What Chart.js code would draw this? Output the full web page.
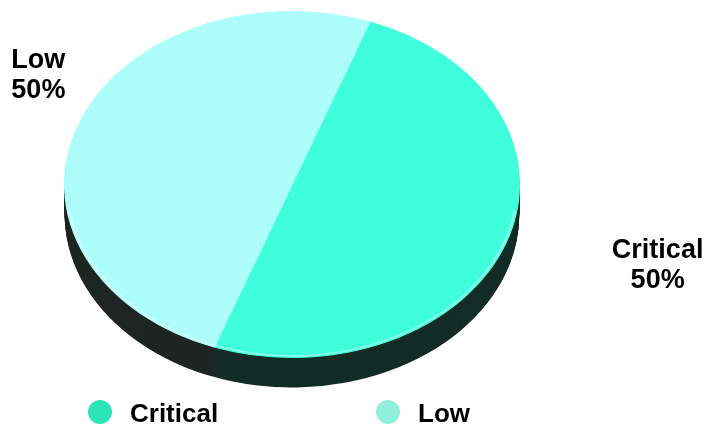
<!DOCTYPE html>
<html>
<head>
<meta charset="utf-8">
<script src="https://cdn.jsdelivr.net/npm/chart.js@4.4.1/dist/chart.umd.min.js"></script>
<style>
  html, body { margin: 0; padding: 0; background: #fff; }
  canvas { display: block; }
</style>
</head>
<body>
<canvas id="chart" width="706" height="425"></canvas>
<script>
const categories = ["Critical", "Low"];
const values = [50, 50];
const sliceColors = ["#3ffedb", "#adfefb"];
const sideColors = ["#142c26", "#1e2522"];
const legendColors = ["#2de3b8", "#90f0dc"];

const FONT = "'Liberation Sans', Arial, sans-serif";

// fake 3d: stretch the pie sideways and stack a dark copy under it
const pie3d = {
  id: "pie3d",
  beforeDatasetsDraw(chart, args, opts) {
    const arcs = chart.getDatasetMeta(0).data;
    if (!arcs.length) return;
    const ctx = chart.ctx;
    const { x, y } = arcs[0];
    ctx.save();
    ctx.translate(x, y);
    ctx.scale(opts.stretch, 1);
    ctx.translate(-x, -y);
    for (let k = opts.depth; k >= 1; k--) {
      arcs.forEach((arc, i) => {
        ctx.beginPath();
        ctx.moveTo(arc.x, arc.y + k);
        ctx.arc(arc.x, arc.y + k, arc.outerRadius, arc.startAngle, arc.endAngle);
        ctx.closePath();
        ctx.fillStyle = sideColors[i];
        ctx.fill();
      });
    }
  },
  afterDatasetsDraw(chart, args, opts) {
    const arcs = chart.getDatasetMeta(0).data;
    if (!arcs.length) return;
    const ctx = chart.ctx;
    const { x, y, outerRadius } = arcs[0];
    // light rim on the front edge
    ctx.beginPath();
    ctx.arc(x, y, outerRadius - 1.5, 0.15, Math.PI - 0.15);
    ctx.strokeStyle = "rgba(255,255,255,0.35)";
    ctx.lineWidth = 2;
    ctx.stroke();
    ctx.restore();
  },
};

const sliceLabels = {
  id: "sliceLabels",
  afterDraw(chart, args, opts) {
    const arcs = chart.getDatasetMeta(0).data;
    const ctx = chart.ctx;
    const total = values.reduce((a, b) => a + b, 0);
    const stretch = chart.options.plugins.pie3d.stretch;
    ctx.save();
    ctx.font = "bold 27px " + FONT;
    ctx.textAlign = "center";
    ctx.textBaseline = "alphabetic";
    ctx.fillStyle = "#000";
    arcs.forEach((arc, i) => {
      const mid = (arc.startAngle + arc.endAngle) / 2;
      const ex = arc.x + Math.cos(mid) * arc.outerRadius * stretch;
      const ey = arc.y + Math.sin(mid) * arc.outerRadius;
      const lx = ex + opts.offsets[i][0];
      const ly = ey + opts.offsets[i][1];
      ctx.fillText(categories[i], lx, ly - 5);
      ctx.fillText(Math.round(values[i] / total * 100) + "%", lx, ly + 25);
    });
    ctx.restore();
  },
};

const bottomLegend = {
  id: "bottomLegend",
  afterDraw(chart, args, opts) {
    const ctx = chart.ctx;
    ctx.save();
    ctx.font = "bold 26px " + FONT;
    ctx.textBaseline = "alphabetic";
    categories.forEach((name, i) => {
      const left = opts.startX + i * opts.spacing;
      ctx.beginPath();
      ctx.arc(left + opts.radius, opts.y, opts.radius, 0, Math.PI * 2);
      ctx.fillStyle = legendColors[i];
      ctx.fill();
      ctx.fillStyle = "#000";
      ctx.fillText(name, left + 42, opts.y + 10);
    });
    ctx.restore();
  },
};

new Chart(document.getElementById("chart"), {
  type: "pie",
  data: {
    labels: categories,
    datasets: [
      {
        data: values,
        backgroundColor: sliceColors,
        borderColor: sliceColors,
        borderWidth: 1,
      },
    ],
  },
  options: {
    responsive: false,
    animation: false,
    events: [],
    rotation: 20,
    layout: { padding: { top: 11, bottom: 67, left: 0, right: 122 } },
    plugins: {
      legend: { display: false },
      tooltip: { enabled: false },
      pie3d: { stretch: 228 / 173.5, depth: 30 },
      sliceLabels: { offsets: [[152, 19], [-40, -52]] },
      bottomLegend: { startX: 88, spacing: 288, y: 412, radius: 12 },
    },
  },
  plugins: [pie3d, sliceLabels, bottomLegend],
});
</script>
</body>
</html>
